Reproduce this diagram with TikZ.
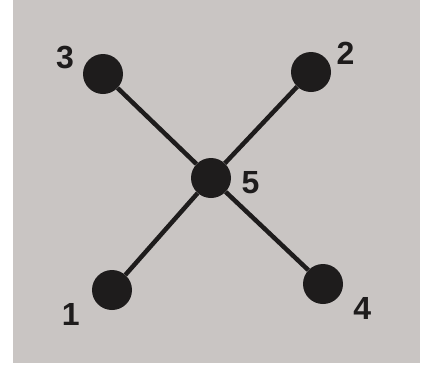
\documentclass[tikz,border=0pt]{standalone}
\usepackage{fontspec}
\setmainfont{Liberation Sans}
\definecolor{paper}{RGB}{201,197,195}
\definecolor{ink}{RGB}{30,28,28}
\tikzset{
  vertex/.style={circle, fill=ink, inner sep=0pt, minimum size=40pt},
  tag/.style={anchor=center, inner sep=0pt, text=ink,
    font=\fontsize{32}{32}\selectfont\bfseries, label distance=#1},
  edge/.style={draw=ink, line width=4.5pt}
}
\begin{document}
\begin{tikzpicture}[x=1pt, y=1pt]
      \useasboundingbox (0, 0) rectangle (429, -365);
      \fill[white] (0, 0) rectangle (429, -365);
      \fill[paper] (13, 0) rectangle (420, -363);

      \begin{scope}[name prefix = v-]
         \node[vertex, label={[tag=21pt]157:3}] (3) at (103, -74) {};
         \node[vertex, label={[tag=19pt]28:2}] (2) at (311, -72) {};
         \node[vertex, label={[tag=19.5pt]-7:5}] (5) at (211, -178) {};
         \node[vertex, label={[tag=28pt]211:1}] (1) at (112, -290) {};
         \node[vertex, label={[tag=26pt]-32:4}] (4) at (323, -284) {};
      \end{scope}

      \begin{scope}
         \draw[edge] (v-3) -- (v-5);
         \draw[edge] (v-2) -- (v-5);
         \draw[edge] (v-1) -- (v-5);
         \draw[edge] (v-4) -- (v-5);
      \end{scope}
   \end{tikzpicture}
\end{document}
